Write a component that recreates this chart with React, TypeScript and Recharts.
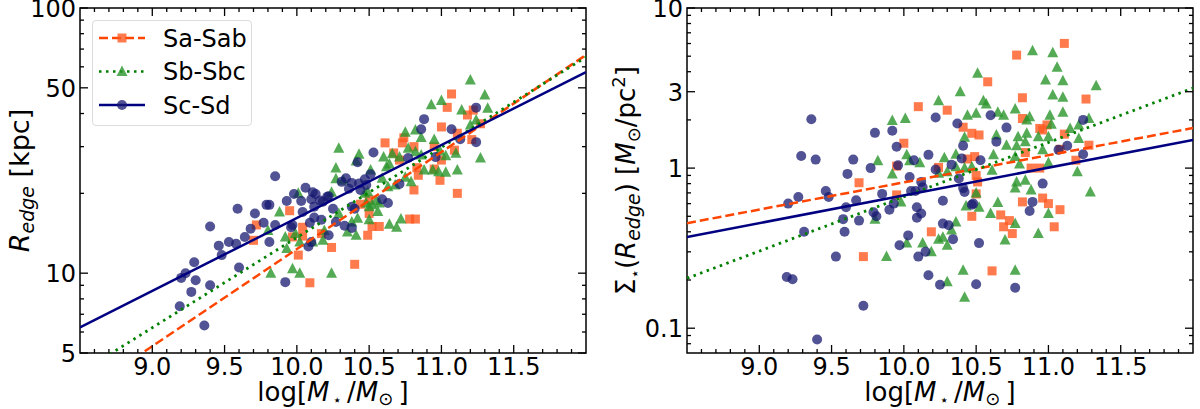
import { ScatterChart, Scatter, XAxis, YAxis, ReferenceArea } from "recharts";

// log stellar mass ticks (minor every 0.1, labelled every 0.5)
const massTicks = [
  8.6, 8.7, 8.8, 8.9, 9.0, 9.1, 9.2, 9.3, 9.4, 9.5, 9.6, 9.7, 9.8, 9.9,
  10.0, 10.1, 10.2, 10.3, 10.4, 10.5, 10.6, 10.7, 10.8, 10.9,
  11.0, 11.1, 11.2, 11.3, 11.4, 11.5, 11.6, 11.7, 11.8, 11.9,
];
const massLabels = [9.0, 9.5, 10.0, 10.5, 11.0, 11.5];

const radiusTicks = [5, 6, 7, 8, 9, 10, 20, 30, 40, 50, 60, 70, 80, 90, 100];
const radiusLabels = [5, 10, 50, 100];

const densityTicks = [
  0.08, 0.09, 0.1, 0.2, 0.3, 0.4, 0.5, 0.6, 0.7, 0.8, 0.9, 1, 2, 3, 4, 5, 6, 7, 8, 9, 10,
];
const densityLabels = [0.1, 1, 3, 10];

// [log M*, R_edge (kpc)]
const saRadius: [number, number][] = [
  [9.95, 17.2], [9.72, 15.2], [9.7, 13.3], [9.97, 13.7], [10.04, 13.8], [10.01, 11.7],
  [10.17, 14.1], [10.24, 12.5], [10.09, 9.2], [10.61, 31.0], [10.73, 31.0], [10.74, 32.4],
  [10.81, 30.0], [10.71, 26.7], [10.83, 25.0], [10.84, 23.4], [10.95, 30.0], [11.0, 35.6],
  [11.04, 42.2], [11.07, 47.4], [11.11, 33.7], [11.09, 29.1], [11.0, 26.7], [10.95, 24.7],
  [10.99, 22.4], [10.81, 20.6], [11.11, 20.0], [11.18, 39.5], [11.22, 41.2], [11.21, 31.9],
  [11.27, 36.6], [10.5, 18.9], [10.44, 18.2], [10.67, 28.4], [10.04, 14.9], [10.4, 10.8],
  [10.49, 13.9], [10.52, 15.0], [10.57, 15.0], [10.78, 16.0], [10.82, 16.0], [10.5, 16.8],
];
const sbRadius: [number, number][] = [
  [9.88, 17.0], [10.01, 20.0], [9.8, 14.5], [9.92, 13.7], [9.99, 14.1], [9.93, 12.4],
  [10.11, 13.1], [10.18, 13.3], [9.82, 10.0], [9.97, 10.4], [10.02, 10.0], [10.24, 10.0],
  [10.24, 20.2], [10.27, 22.7], [10.29, 29.6], [10.27, 24.9], [10.43, 28.1], [10.41, 26.5],
  [10.32, 22.4], [10.47, 20.0], [10.51, 24.5], [10.6, 27.4], [10.62, 25.2], [10.64, 25.8],
  [10.71, 27.4], [10.66, 28.2], [10.75, 34.0], [10.82, 34.7], [10.86, 32.5], [10.77, 29.6],
  [10.82, 28.7], [10.86, 27.9], [10.88, 24.5], [10.93, 43.2], [11.0, 44.8], [10.95, 31.9],
  [10.99, 28.9], [11.03, 27.7], [11.1, 28.3], [11.11, 24.5], [10.94, 24.5], [10.98, 24.1],
  [11.03, 24.0], [11.2, 53.5], [11.3, 47.0], [11.32, 41.9], [11.14, 41.2], [11.24, 37.8],
  [11.2, 36.2], [11.27, 27.2], [10.63, 21.2], [10.79, 22.1], [10.75, 23.0], [10.49, 20.3],
  [10.68, 21.5], [10.55, 18.8], [10.48, 18.4], [10.59, 22.8], [10.02, 13.1], [10.29, 16.8],
  [10.35, 14.3], [10.41, 13.9], [10.38, 15.6], [10.42, 16.1], [10.5, 15.9], [10.56, 17.1],
  [10.52, 18.1], [10.64, 15.3], [10.69, 14.9], [10.72, 16.0], [10.19, 14.5], [10.5, 17.8],
  [10.57, 18.4],
];
const scRadius: [number, number][] = [
  [9.85, 23.2], [9.4, 15.0], [9.59, 17.5], [9.71, 16.8], [9.81, 18.1], [9.93, 18.7],
  [9.98, 19.9], [10.06, 21.0], [10.03, 18.7], [10.11, 20.2], [10.1, 19.0], [10.16, 18.8],
  [10.21, 19.4], [10.12, 17.8], [10.04, 17.0], [9.77, 15.5], [9.68, 14.7], [9.85, 15.2],
  [9.97, 15.2], [10.09, 15.5], [10.17, 15.9], [9.64, 13.7], [9.81, 13.1], [9.53, 13.1],
  [9.58, 12.9], [9.46, 12.7], [9.48, 11.7], [9.29, 11.0], [9.23, 10.0], [9.2, 9.6],
  [9.3, 9.4], [9.6, 10.5], [9.4, 9.0], [9.27, 8.5], [9.19, 7.5], [9.36, 6.35],
  [9.92, 9.25], [10.08, 12.6], [10.1, 13.1], [10.22, 13.9], [9.96, 14.9], [9.79, 18.1],
  [10.13, 19.9], [10.22, 19.5], [10.18, 18.6], [10.31, 22.1], [10.34, 22.8], [10.38, 21.9],
  [10.43, 21.8], [10.47, 22.6], [10.51, 23.6], [10.48, 21.5], [10.42, 26.2], [10.53, 28.5],
  [10.36, 20.8], [10.44, 20.6], [10.59, 19.0], [10.63, 18.4], [10.71, 21.7], [10.77, 27.2],
  [10.86, 34.9], [10.88, 38.1], [10.96, 27.4], [11.07, 34.9], [11.13, 32.0], [11.24, 31.2],
  [11.24, 42.1], [10.25, 17.5], [10.4, 17.5], [10.12, 16.2], [10.27, 15.6], [10.33, 15.1],
  [10.38, 17.8], [10.38, 14.8],
];

// [log M*, Sigma*(R_edge) (Msun/pc^2)]
const saDensity: [number, number][] = [
  [9.69, 0.81], [9.95, 1.03], [9.95, 0.68], [9.72, 0.28], [10.1, 2.42], [10.3, 2.3],
  [10.0, 1.43], [10.19, 0.4], [10.47, 0.5], [10.41, 1.8], [10.47, 1.65], [10.49, 1.18],
  [10.44, 1.14], [10.5, 0.9], [10.5, 0.69], [10.24, 1.01], [10.52, 1.61], [10.51, 0.82],
  [10.58, 3.46], [10.78, 5.08], [10.82, 2.04], [10.82, 2.75], [10.84, 1.25], [10.88, 1.0],
  [10.94, 1.0], [10.94, 1.77], [10.99, 1.86], [10.96, 1.73], [11.11, 6.01], [11.26, 2.7],
  [11.11, 1.63], [11.08, 1.31], [11.19, 1.12], [11.28, 1.39], [10.82, 0.615], [10.96, 0.65],
  [11.0, 0.6], [11.08, 0.55], [10.61, 0.228], [10.67, 0.51], [10.69, 0.43], [10.73, 0.47],
  [10.75, 0.39], [11.04, 0.43],
];
const sbDensity: [number, number][] = [
  [9.92, 1.98], [9.82, 1.11], [9.92, 0.92], [9.8, 0.48], [9.88, 0.28], [10.01, 2.04],
  [10.24, 2.63], [10.39, 3.0], [10.51, 3.91], [10.02, 1.21], [10.04, 1.11], [10.11, 1.08],
  [10.28, 1.16], [10.36, 1.22], [10.3, 0.95], [10.42, 1.56], [10.44, 2.14], [10.5, 2.2],
  [10.47, 1.02], [10.42, 1.0], [10.43, 0.58], [10.5, 0.7], [9.98, 0.615], [10.36, 0.46],
  [10.33, 0.41], [10.24, 0.36], [10.27, 0.37], [10.3, 0.33], [10.13, 0.34], [10.19, 0.3],
  [10.02, 0.34], [10.41, 0.23], [10.3, 0.195], [10.42, 0.156], [10.55, 2.63], [10.57, 2.51],
  [10.65, 2.23], [10.69, 2.14], [10.77, 2.34], [10.89, 5.41], [11.03, 5.26], [11.06, 4.26],
  [10.98, 3.55], [11.1, 3.51], [11.33, 3.27], [11.03, 2.86], [11.1, 2.77], [11.01, 2.14],
  [11.1, 2.23], [10.87, 2.09], [10.85, 2.0], [10.64, 1.61], [10.79, 1.57], [10.85, 1.65],
  [10.71, 1.39], [10.78, 1.38], [10.84, 1.46], [10.93, 1.57], [11.0, 1.57], [10.96, 1.3],
  [11.02, 1.88], [11.15, 1.77], [11.21, 1.86], [11.21, 1.53], [11.28, 2.04], [10.62, 1.21],
  [10.77, 1.18], [10.8, 1.06], [10.36, 1.02], [10.61, 0.97], [10.78, 0.82], [10.84, 0.84],
  [11.0, 1.08], [11.2, 0.95], [11.29, 0.71], [10.65, 0.61], [10.77, 0.75], [10.88, 0.73],
  [10.24, 0.93], [10.6, 0.52], [10.52, 0.57], [10.77, 0.45], [10.7, 0.355], [10.77, 0.23],
  [10.93, 0.39], [11.0, 0.52],
];
const scDensity: [number, number][] = [
  [9.36, 2.02], [9.29, 1.19], [9.39, 1.13], [9.65, 1.13], [9.61, 0.92], [9.77, 1.0],
  [9.8, 1.66], [9.92, 1.71], [9.95, 1.36], [9.46, 0.72], [9.48, 0.66], [9.27, 0.66],
  [9.2, 0.6], [9.67, 0.63], [9.85, 0.69], [9.96, 1.04], [9.6, 0.57], [9.79, 0.53],
  [9.81, 0.5], [9.58, 0.48], [9.69, 0.47], [9.9, 0.55], [9.31, 0.4], [9.59, 0.4],
  [9.53, 0.28], [9.19, 0.209], [9.23, 0.202], [9.72, 0.138], [9.4, 0.085], [9.97, 0.33],
  [9.93, 0.6], [10.03, 0.38], [10.1, 0.28], [10.15, 0.3], [10.17, 0.214], [10.25, 0.187],
  [10.27, 0.45], [10.31, 0.44], [10.34, 0.36], [10.09, 0.57], [10.12, 0.52], [10.09, 0.49],
  [10.27, 0.625], [10.08, 0.72], [10.13, 0.76], [10.05, 0.72], [10.04, 0.88], [10.07, 1.12],
  [10.17, 1.21], [10.22, 0.98], [10.33, 1.05], [10.4, 1.15], [10.41, 1.38], [10.22, 2.07],
  [10.37, 1.9], [10.38, 0.86], [10.42, 0.71], [10.47, 0.59], [10.5, 0.188], [10.52, 0.34],
  [10.12, 0.82], [10.41, 0.75], [10.48, 0.6], [10.53, 1.12], [10.6, 2.14], [10.71, 1.79],
  [10.64, 1.46], [10.96, 0.8], [10.89, 0.615], [11.13, 1.38], [11.07, 1.3], [11.24, 2.0],
  [11.24, 1.22], [10.77, 0.179], [10.87, 0.54],
];

// fitted relations, end points at the plot edges
const saRadiusFit: [number, number][] = [[8.5, 3.48], [12.0, 66.5]];
const sbRadiusFit: [number, number][] = [[8.5, 4.21], [12.0, 65.3]];
const scRadiusFit: [number, number][] = [[8.5, 6.25], [12.0, 57.3]];
const saDensityFit: [number, number][] = [[8.5, 0.453], [12.0, 1.78]];
const sbDensityFit: [number, number][] = [[8.5, 0.205], [12.0, 3.16]];
const scDensityFit: [number, number][] = [[8.5, 0.371], [12.0, 1.5]];

const toPoints = (rows: [number, number][]) => rows.map(([x, y]) => ({ x, y }));

const SA = { line: "#ff4500", fill: "#ff5a20" };
const SB = { line: "#008000", fill: "#2a952a" };
const SC = { line: "#000080", fill: "#181a70" };
const FONT = "DejaVu Sans, sans-serif";
const PLOT_TOP = 8;
const PLOT_BOTTOM = 353;
const TICK_FONT = 24;

const square = (p: any) => (
  <rect x={p.cx - 4.5} y={p.cy - 4.5} width={9} height={9} fill={SA.fill} fillOpacity={0.8} />
);
const triangle = (p: any) => (
  <polygon
    points={`${p.cx},${p.cy - 6} ${p.cx - 5.5},${p.cy + 4.5} ${p.cx + 5.5},${p.cy + 4.5}`}
    fill={SB.fill}
    fillOpacity={0.8}
  />
);
const circle = (p: any) => (
  <circle cx={p.cx} cy={p.cy} r={5} fill={SC.fill} fillOpacity={0.75} />
);
const noShape = () => <g />;

const isIn = (list: number[], v: number) => list.some((l) => Math.abs(l - v) < 1e-9);

const xTick = (props: any) => {
  const { x, payload } = props;
  const v = payload.value as number;
  const major = isIn(massLabels, v);
  const len = major ? 8 : 4;
  return (
    <g>
      <line x1={x} x2={x} y1={PLOT_BOTTOM} y2={PLOT_BOTTOM - len} stroke="#000" strokeWidth={1.3} />
      <line x1={x} x2={x} y1={PLOT_TOP} y2={PLOT_TOP + len} stroke="#000" strokeWidth={1.3} />
      {major && (
        <text x={x} y={PLOT_BOTTOM + 22} textAnchor="middle" fontSize={TICK_FONT} fontFamily={FONT} fill="#000">
          {v.toFixed(1)}
        </text>
      )}
    </g>
  );
};

const makeYTick = (labels: number[], left: number, right: number) => (props: any) => {
  const { y, payload } = props;
  const v = payload.value as number;
  const major = isIn(labels, v);
  const len = major ? 8 : 4;
  return (
    <g>
      <line x1={left} x2={left + len} y1={y} y2={y} stroke="#000" strokeWidth={1.3} />
      <line x1={right - len} x2={right} y1={y} y2={y} stroke="#000" strokeWidth={1.3} />
      {major && (
        <text x={left - 4} y={y + 9} textAnchor="end" fontSize={TICK_FONT} fontFamily={FONT} fill="#000">
          {String(v)}
        </text>
      )}
    </g>
  );
};

const massTitle = (cx: number) => (
  <text x={cx} y={PLOT_BOTTOM + 48} textAnchor="middle" fontSize={26} fontFamily={FONT} fill="#000">
    log[<tspan fontStyle="italic">M</tspan>
    <tspan fontSize={15} dy={4}>{"\u2009\u22c6"}</tspan>
    <tspan dy={-4}>{"\u2009/"}</tspan>
    <tspan fontStyle="italic">M</tspan>
    <tspan fontSize={18} dy={4}>{"\u2299"}</tspan>
    <tspan dy={-4}>{"\u2009]"}</tspan>
  </text>
);

const CY = (PLOT_TOP + PLOT_BOTTOM) / 2;

const radiusTitle = (
  <text x={29} y={CY} transform={`rotate(-90, 29, ${CY})`} textAnchor="middle" fontSize={27} fontFamily={FONT} fill="#000">
    <tspan fontStyle="italic">R</tspan>
    <tspan fontStyle="italic" fontSize={19} dy={5}>edge</tspan>
    <tspan dy={-5}>{" [kpc]"}</tspan>
  </text>
);

const densityTitle = (
  <text x={35} y={CY} transform={`rotate(-90, 35, ${CY})`} textAnchor="middle" fontSize={26} fontFamily={FONT} fill="#000">
    {"\u03a3"}
    <tspan fontSize={15} dy={5}>{"\u22c6"}</tspan>
    <tspan dy={-5}>(</tspan>
    <tspan fontStyle="italic">R</tspan>
    <tspan fontStyle="italic" fontSize={19} dy={5}>edge</tspan>
    <tspan dy={-5}>{") ["}</tspan>
    <tspan fontStyle="italic">M</tspan>
    <tspan fontSize={18} dy={5}>{"\u2299"}</tspan>
    <tspan dy={-5}>/pc</tspan>
    <tspan fontSize={18} dy={-10}>2</tspan>
    <tspan dy={10}>]</tspan>
  </text>
);

type PanelProps = {
  left: number;
  marginLeft: number;
  marginRight: number;
  yDomain: [number, number];
  yTicks: number[];
  yLabels: number[];
  yTitle: any;
  sa: [number, number][];
  sb: [number, number][];
  sc: [number, number][];
  saFit: [number, number][];
  sbFit: [number, number][];
  scFit: [number, number][];
};

const Y_AXIS_W = 60;
const X_AXIS_H = 50;

function Panel(p: PanelProps) {
  const plotRight = 600 - p.marginRight;
  const plotCenter = (p.marginLeft + plotRight) / 2;
  return (
    <div style={{ position: "absolute", left: p.left, top: 0, width: 600, height: 409 }}>
      <ScatterChart
        width={600}
        height={409}
        margin={{
          top: PLOT_TOP,
          right: p.marginRight,
          bottom: 409 - PLOT_BOTTOM - X_AXIS_H,
          left: p.marginLeft - Y_AXIS_W,
        }}
      >
        <XAxis
          type="number"
          dataKey="x"
          domain={[8.5, 12]}
          allowDataOverflow
          ticks={massTicks}
          interval={0}
          height={X_AXIS_H}
          tickSize={0}
          tickMargin={0}
          axisLine={false}
          tickLine={false}
          tick={xTick}
        />
        <YAxis
          type="number"
          dataKey="y"
          scale="log"
          domain={p.yDomain}
          allowDataOverflow
          ticks={p.yTicks}
          interval={0}
          width={Y_AXIS_W}
          tickSize={0}
          tickMargin={0}
          axisLine={false}
          tickLine={false}
          tick={makeYTick(p.yLabels, p.marginLeft, plotRight)}
        />
        <Scatter data={toPoints(p.sa)} shape={square} isAnimationActive={false} />
        <Scatter data={toPoints(p.sb)} shape={triangle} isAnimationActive={false} />
        <Scatter data={toPoints(p.sc)} shape={circle} isAnimationActive={false} />
        <Scatter
          data={toPoints(p.saFit)}
          fill={SA.line}
          line={{ stroke: SA.line, strokeWidth: 2.5, strokeDasharray: "9 4" }}
          shape={noShape}
          isAnimationActive={false}
        />
        <Scatter
          data={toPoints(p.sbFit)}
          fill={SB.line}
          line={{ stroke: SB.line, strokeWidth: 2.8, strokeDasharray: "2.5 4.5" }}
          shape={noShape}
          isAnimationActive={false}
        />
        <Scatter
          data={toPoints(p.scFit)}
          fill={SC.line}
          line={{ stroke: SC.line, strokeWidth: 2.5 }}
          shape={noShape}
          isAnimationActive={false}
        />
        <ReferenceArea
          x1={8.5}
          x2={12}
          y1={p.yDomain[0]}
          y2={p.yDomain[1]}
          fill="none"
          stroke="#000"
          strokeWidth={1.5}
          ifOverflow="visible"
        />
      </ScatterChart>
      <svg
        width={600}
        height={409}
        style={{ position: "absolute", left: 0, top: 0, pointerEvents: "none" }}
      >
        {massTitle(plotCenter)}
        {p.yTitle}
      </svg>
    </div>
  );
}

const legendRows = [
  { name: "Sa-Sab", color: SA, dash: "9 4", marker: "square" },
  { name: "Sb-Sbc", color: SB, dash: "2.5 4.5", marker: "triangle" },
  { name: "Sc-Sd", color: SC, dash: undefined, marker: "circle" },
];

function Legend() {
  const rowY = [18, 51.5, 85];
  return (
    <div
      style={{
        position: "absolute",
        left: 92,
        top: 20,
        width: 160,
        height: 106,
        border: "1px solid #dcdcdc",
        borderRadius: 4,
        background: "rgba(255,255,255,0.8)",
        boxSizing: "border-box",
      }}
    >
      <svg width={160} height={106} style={{ position: "absolute", left: -1, top: -1 }}>
        {legendRows.map((r, i) => {
          const y = rowY[i];
          return (
            <g key={r.name}>
              <line x1={7} x2={53} y1={y} y2={y} stroke={r.color.line} strokeWidth={2.5} strokeDasharray={r.dash} />
              {r.marker === "square" && square({ cx: 30, cy: y })}
              {r.marker === "triangle" && triangle({ cx: 30, cy: y })}
              {r.marker === "circle" && circle({ cx: 30, cy: y })}
              <text x={71} y={y + 8.5} fontSize={24} fontFamily={FONT} fill="#000">
                {r.name}
              </text>
            </g>
          );
        })}
      </svg>
    </div>
  );
}

export default function App() {
  return (
    <div
      style={{
        position: "absolute",
        left: 0,
        top: 0,
        width: 1200,
        height: 409,
        background: "#fff",
        fontFamily: FONT,
      }}
    >
      <Panel
        left={0}
        marginLeft={80}
        marginRight={14}
        yDomain={[5, 100]}
        yTicks={radiusTicks}
        yLabels={radiusLabels}
        yTitle={radiusTitle}
        sa={saRadius}
        sb={sbRadius}
        sc={scRadius}
        saFit={saRadiusFit}
        sbFit={sbRadiusFit}
        scFit={scRadiusFit}
      />
      <Panel
        left={600}
        marginLeft={87}
        marginRight={7}
        yDomain={[0.07, 10]}
        yTicks={densityTicks}
        yLabels={densityLabels}
        yTitle={densityTitle}
        sa={saDensity}
        sb={sbDensity}
        sc={scDensity}
        saFit={saDensityFit}
        sbFit={sbDensityFit}
        scFit={scDensityFit}
      />
      <Legend />
    </div>
  );
}
